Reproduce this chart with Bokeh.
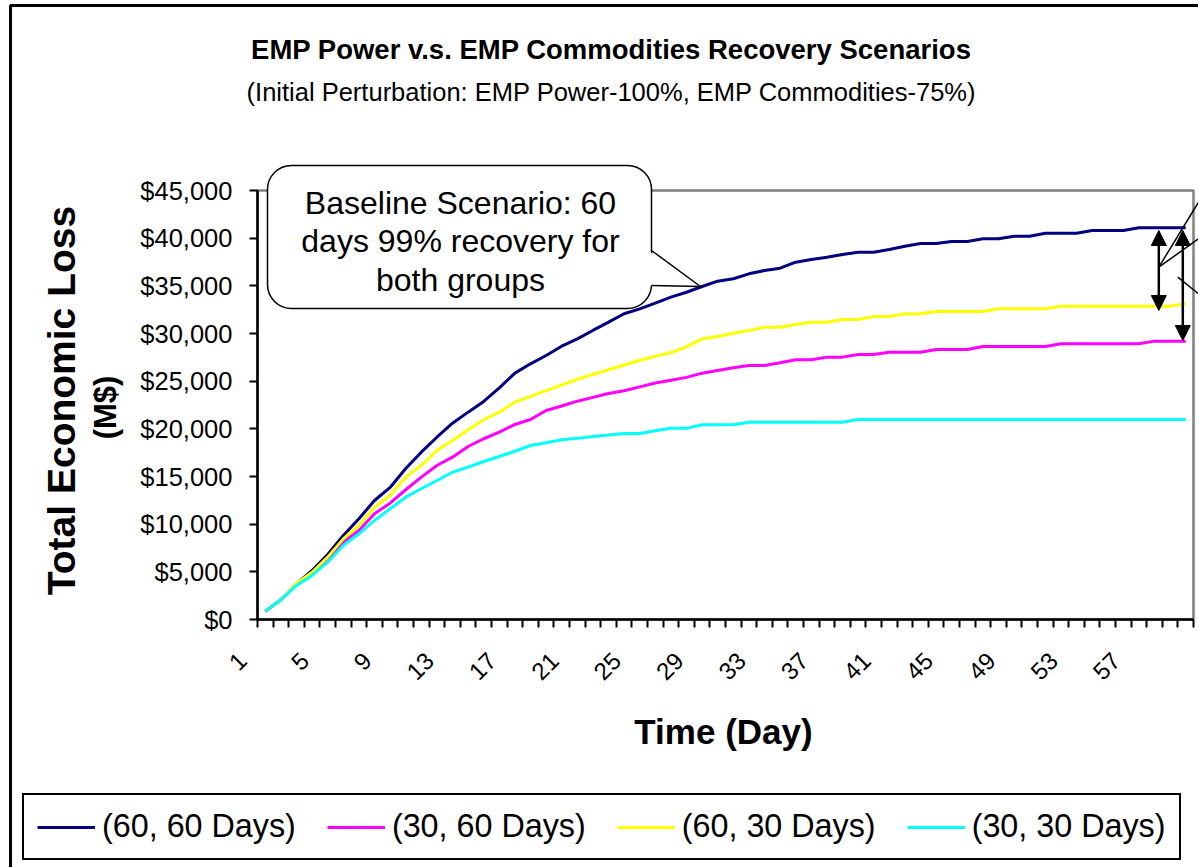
import math

from bokeh.core.properties import value
from bokeh.embed import file_html
from bokeh.models import (Arrow, BoxAnnotation, FixedTicker, Label, Legend,
                          LegendItem, NormalHead, NumeralTickFormatter,
                          PolyAnnotation, Range1d)
from bokeh.plotting import figure
from bokeh.resources import INLINE

# ---- data: cumulative total economic loss (M$) by day -------------------
days = list(range(1, 61))

loss_60_60 = [870, 2070, 3745, 5140, 6820, 8810, 10560, 12480, 13850, 15840,
              17550, 19120, 20590, 21750, 22870, 24300, 25840, 26820, 27690, 28670,
              29440, 30320, 31190, 32070, 32590, 33180, 33810, 34330, 34930, 35490,
              35740, 36260, 36610, 36850, 37480, 37760, 38000, 38290, 38530, 38530,
              38810, 39160, 39440, 39440, 39650, 39650, 39930, 39930, 40210, 40210,
              40520, 40520, 40520, 40810, 40810, 40810, 41090, 41090, 41090, 41090]

loss_30_60 = [870, 2070, 3670, 4790, 6260, 8110, 9340, 11090, 12200, 13610,
              14930, 16150, 17030, 18150, 18960, 19650, 20460, 20980, 21920, 22400,
              22900, 23300, 23700, 24000, 24400, 24800, 25100, 25400, 25840, 26120,
              26400, 26650, 26650, 26930, 27240, 27240, 27520, 27520, 27800, 27800,
              28040, 28040, 28040, 28320, 28320, 28320, 28640, 28640, 28640, 28640,
              28640, 28920, 28920, 28920, 28920, 28920, 28920, 29200, 29200, 29200]

loss_60_30 = [870, 2070, 3780, 4960, 6540, 8460, 9860, 11780, 13010, 14930,
              16150, 17730, 18780, 19900, 20950, 21750, 22800, 23400, 24000, 24600,
              25200, 25700, 26200, 26700, 27200, 27600, 28000, 28600, 29440, 29690,
              30030, 30320, 30660, 30660, 30950, 31190, 31190, 31470, 31470, 31790,
              31790, 32070, 32070, 32310, 32310, 32310, 32310, 32590, 32590, 32590,
              32590, 32870, 32870, 32870, 32870, 32870, 32870, 32870, 32870, 33120]

loss_30_30 = [870, 2070, 3570, 4620, 6010, 7760, 8990, 10390, 11610, 12830,
              13710, 14580, 15450, 15980, 16570, 17100, 17650, 18250, 18540, 18850,
              19000, 19200, 19350, 19500, 19500, 19800, 20050, 20050, 20420, 20420,
              20420, 20700, 20700, 20700, 20700, 20700, 20700, 20700, 20980, 20980,
              20980, 20980, 20980, 20980, 20980, 20980, 20980, 20980, 20980, 20980,
              20980, 20980, 20980, 20980, 20980, 20980, 20980, 20980, 20980, 20980]

series_labels = ["(60, 60 Days)", "(30, 60 Days)", "(60, 30 Days)", "(30, 30 Days)"]
series_colors = ["#000080", "#FF00FF", "#FFFF00", "#00FFFF"]

day_tick_labels = list(range(1, 61, 4))
loss_ticks = list(range(0, 45001, 5000))

# ---- canvas geometry -----------------------------------------------------
W, H = 1198, 867
FL, FR, FT, FB = 257, 1193, 190, 619          # plot-area edges in pixels
X0, X1 = 0.5, 60.5                            # category span of the plot area
Y0, Y1 = 0, 45000
FONT = "Liberation Sans"


def cx(px):
    """Canvas pixel column -> x data coordinate."""
    return X0 + (px - FL) * (X1 - X0) / (FR - FL)


def cy(py):
    """Canvas pixel row -> y data coordinate."""
    return Y0 + (FB - py) * (Y1 - Y0) / (FB - FT)


# The frame covers the whole canvas; the axes sit at fixed data locations so
# that titles, legend and callouts around the plot area stay drawable.
p = figure(width=W, height=H, output_backend="svg", toolbar_location=None,
           x_range=Range1d(cx(0), cx(W)), y_range=Range1d(cy(H), cy(0)),
           min_border=0, min_border_left=0, min_border_right=0,
           min_border_top=0, min_border_bottom=0,
           background_fill_color="white", border_fill_color="white")
p.title = None
p.xgrid.visible = False
p.ygrid.visible = False
p.outline_line_color = None

# plot-area border (grey top/right, black axes drawn over left/bottom)
p.add_layout(BoxAnnotation(left=X0, right=X1, bottom=Y0, top=Y1, level="underlay",
                           fill_alpha=0, line_color="#808080", line_alpha=1, line_width=2.5))

# x axis: category boundaries as tick marks
xa = p.xaxis[0]
xa.fixed_location = Y0
xa.bounds = (X0, X1)
xa.ticker = FixedTicker(ticks=[], minor_ticks=[d - 0.5 for d in days] + [days[-1] + 0.5])
xa.axis_line_color = "black"
xa.axis_line_width = 2.5
xa.major_tick_out = 0
xa.major_tick_in = 0
xa.minor_tick_out = 8
xa.minor_tick_in = 0
xa.minor_tick_line_color = "black"
xa.minor_tick_line_width = 2

# rotated day labels, every 4th day, anchored just left of each category
p.text(x=day_tick_labels, y=[Y0] * len(day_tick_labels),
       text=[str(d) for d in day_tick_labels], angle=math.pi / 4,
       x_offset=-23, y_offset=37, text_align="right", text_baseline="middle",
       text_font=value(FONT), text_font_size="24px", text_color="black")

# y axis: dollar values
ya = p.yaxis[0]
ya.fixed_location = X0
ya.bounds = (Y0, Y1)
ya.ticker = FixedTicker(ticks=loss_ticks)
ya.formatter = NumeralTickFormatter(format="$0,0")
ya.axis_line_color = "black"
ya.axis_line_width = 2.5
ya.major_tick_out = 8
ya.major_tick_in = 0
ya.major_tick_line_width = 2
ya.minor_tick_line_color = None
ya.major_label_standoff = 17
ya.major_label_text_font = FONT
ya.major_label_text_font_size = "25.5px"
ya.major_label_text_color = "black"

# ---- series --------------------------------------------------------------
renderers = []
for vals, col in zip([loss_60_60, loss_30_60, loss_60_30, loss_30_30], series_colors):
    r = p.line(days, vals, line_color=col, line_width=3)
    renderers.append(r)

# ---- outer chart border --------------------------------------------------
p.add_layout(BoxAnnotation(left=cx(10), right=cx(1400), top=cy(5), bottom=cy(1100),
                           fill_alpha=0, line_color="black", line_alpha=1, line_width=3))

# ---- titles --------------------------------------------------------------
p.add_layout(Label(x=cx(611), y=cy(49), text="EMP Power v.s. EMP Commodities Recovery Scenarios",
                   text_font=FONT, text_font_style="bold", text_font_size="27.5px",
                   text_align="center", text_baseline="alphabetic", text_color="black"))
p.add_layout(Label(x=cx(611), y=cy(91),
                   text="(Initial Perturbation: EMP Power-100%, EMP Commodities-75%)",
                   text_font=FONT, text_font_size="25.5px",
                   text_align="center", text_baseline="alphabetic", text_color="black"))
p.add_layout(Label(x=cx(723), y=cy(731), text="Time (Day)",
                   text_font=FONT, text_font_style="bold", text_font_size="35px",
                   text_align="center", text_baseline="alphabetic", text_color="black"))
p.add_layout(Label(x=cx(61), y=cy(400), text="Total Economic Loss", angle=math.pi / 2,
                   text_font=FONT, text_font_style="bold", text_font_size="39px",
                   text_align="center", text_baseline="alphabetic", text_color="black"))
p.add_layout(Label(x=cx(105), y=cy(407), text="(M$)", angle=math.pi / 2,
                   text_font=FONT, text_font_style="bold", text_font_size="31px",
                   text_align="center", text_baseline="alphabetic", text_color="black"))

# ---- callout bubble for the baseline scenario ----------------------------
p.add_layout(BoxAnnotation(left=cx(267), right=cx(651), top=cy(165), bottom=cy(308),
                           fill_color="white", fill_alpha=1, line_color="black",
                           line_alpha=1, line_width=1.5, border_radius=24))
p.add_layout(PolyAnnotation(xs=[cx(647), cx(700), cx(647)], ys=[cy(250), cy(286), cy(285)],
                            fill_color="white", fill_alpha=1, line_color=None))
for (a, b) in [((651, 250), (700, 286)), ((651, 285), (700, 286))]:
    p.add_layout(Arrow(x_start=cx(a[0]), y_start=cy(a[1]), x_end=cx(b[0]), y_end=cy(b[1]),
                       start=None, end=None, line_color="black", line_width=1.5))
for i, line in enumerate(["Baseline Scenario: 60", "days 99% recovery for", "both groups"]):
    p.add_layout(Label(x=cx(460), y=cy(202 + 38.5 * i), text=line,
                       text_font=FONT, text_font_size="32px", text_align="center",
                       text_baseline="alphabetic", text_color="black"))

# ---- gap arrows at the end of the horizon ---------------------------------
for xpx, top_py, bot_py in [(1158.3, 230, 310), (1182.3, 230, 340)]:
    p.add_layout(Arrow(x_start=cx(xpx), y_start=cy(top_py), x_end=cx(xpx), y_end=cy(bot_py),
                       start=NormalHead(size=15, fill_color="black", line_color="black"),
                       end=NormalHead(size=15, fill_color="black", line_color="black"),
                       line_color="black", line_width=2.5))
for (a, b) in [((1158.3, 266.7), (1198, 201.7)), ((1158.3, 266.7), (1198, 238.3)),
               ((1177.3, 276.7), (1198, 293.3))]:
    p.add_layout(Arrow(x_start=cx(a[0]), y_start=cy(a[1]), x_end=cx(b[0]), y_end=cy(b[1]),
                       start=None, end=None, line_color="black", line_width=1.5))

# ---- legend ----------------------------------------------------------------
legend = Legend(items=[LegendItem(label=lab, renderers=[r])
                       for lab, r in zip(series_labels, renderers)],
                orientation="horizontal", location=(22, H - 860),
                border_line_color="black", border_line_width=2, border_line_alpha=1,
                background_fill_color="white", background_fill_alpha=1,
                label_text_font=FONT, label_text_font_size="32.3px", label_text_color="black",
                glyph_width=58, glyph_height=36, label_height=36, label_standoff=7,
                spacing=31, padding=13, margin=0)
p.add_layout(legend, "center")

open("out.html", "w").write(file_html(p, INLINE))
